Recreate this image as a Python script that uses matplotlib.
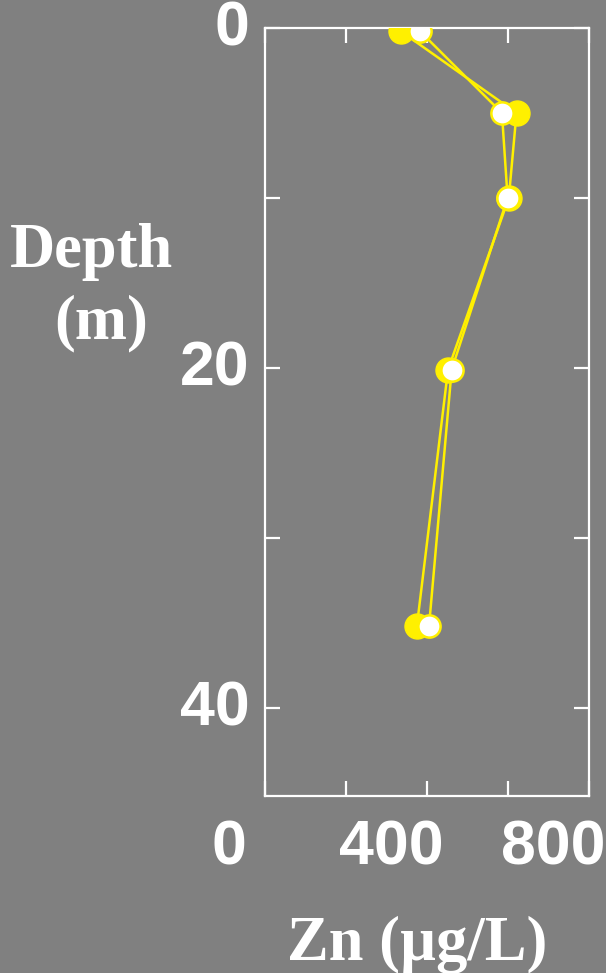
import numpy as np
import matplotlib
matplotlib.use("Agg")
import matplotlib.pyplot as plt
from matplotlib.transforms import ScaledTranslation

# Zn profile, two casts (filled and open symbols)
depth_filled = [0.2, 5.0, 10.0, 20.1, 35.2]
zn_filled = [336, 621, 602, 452, 375]
depth_open = [0.2, 5.0, 10.0, 20.1, 35.2]
zn_open = [383, 585, 599, 461, 405]

x_ticks = [0, 200, 400, 600, 800]
x_labels = ["0", "", "400", "", "800"]
y_ticks = [0, 10, 20, 30, 40]
y_labels = ["0", "", "20", "", "40"]

bg = "#808080"
yellow = "#FFF000"

fig = plt.figure(figsize=(6.06, 9.73), dpi=100, facecolor=bg)
ax = fig.add_axes([265 / 606, 177 / 973, 324 / 606, 768 / 973], facecolor=bg)

ax.plot(zn_filled, depth_filled, color=yellow, lw=1.8, marker="o", ms=18,
        mfc=yellow, mec=yellow, zorder=3)
ax.plot(zn_open, depth_open, color=yellow, lw=1.8, marker="o", ms=16,
        mfc="white", mec=yellow, mew=1.8, zorder=4)

ax.set_xlim(0, 800)
ax.set_ylim(45.2, 0)

for s in ax.spines.values():
    s.set_color("white")
    s.set_linewidth(1.6)

ax.set_xticks(x_ticks, x_labels)
ax.set_yticks(y_ticks, y_labels)
ax.tick_params(direction="in", length=11, width=1.6, color="white",
               top=True, right=True, labelcolor="white")
ax.tick_params(axis="x", pad=16)
ax.tick_params(axis="y", pad=11)
for lab in ax.get_xticklabels() + ax.get_yticklabels():
    lab.set_fontfamily("Liberation Sans")
    lab.set_fontweight("bold")
    lab.set_fontsize(45)
shift_x = ScaledTranslation(-0.36, 0, fig.dpi_scale_trans)
for lab in ax.get_xticklabels():
    lab.set_transform(lab.get_transform() + shift_x)
shift_y = ScaledTranslation(0, 0.05, fig.dpi_scale_trans)
for lab in ax.get_yticklabels():
    lab.set_transform(lab.get_transform() + shift_y)

serif = dict(family="Liberation Serif", weight="bold", size=45, color="white",
             ha="center", va="baseline")
fig.text(91 / 606, 1 - 267 / 973, "Depth", **serif)
fig.text(101 / 606, 1 - 338 / 973, "(m)", **serif)
fig.text(417 / 606, 1 - 960 / 973, "Zn (\u00b5g/L)", **serif)

fig.savefig("out.png", dpi=100, facecolor=bg)
